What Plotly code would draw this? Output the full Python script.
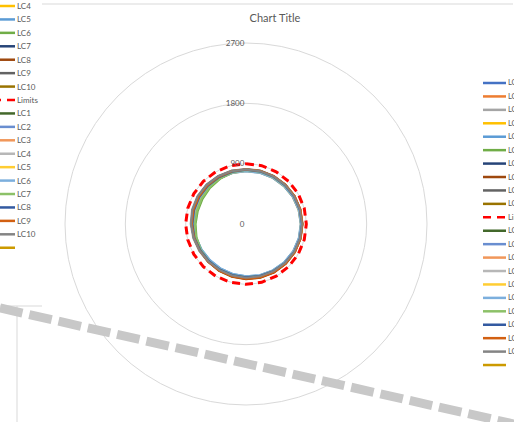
import plotly.graph_objects as go

W, H = 514, 422

# Angular positions (degrees, clockwise from the top)
angles = [i * 15 for i in range(24)]

# Load-case series, first set
lc_a1 = [805, 812, 818, 822, 828, 832, 835, 834, 830, 824, 815, 806, 798, 790, 785, 782, 784, 790, 796, 800, 798, 796, 798, 802]
lc_a2 = [815, 820, 826, 830, 836, 840, 842, 842, 840, 836, 832, 826, 820, 812, 802, 794, 792, 796, 802, 806, 808, 808, 810, 812]
lc_a3 = [820, 826, 830, 834, 838, 842, 845, 845, 842, 838, 830, 822, 812, 805, 800, 800, 806, 815, 826, 834, 836, 834, 830, 825]
lc_a4 = [790, 794, 796, 800, 806, 812, 818, 820, 818, 812, 806, 798, 790, 784, 780, 778, 780, 782, 786, 782, 780, 782, 785, 788]
lc_a5 = [785, 790, 795, 800, 806, 812, 816, 815, 812, 806, 798, 790, 780, 772, 764, 760, 764, 772, 782, 788, 790, 788, 786, 786]
lc_a6 = [800, 804, 808, 814, 822, 830, 838, 840, 836, 826, 812, 800, 790, 782, 778, 776, 772, 764, 752, 745, 748, 760, 776, 792]
lc_a7 = [810, 815, 818, 822, 826, 830, 832, 830, 826, 818, 810, 800, 792, 786, 782, 780, 786, 800, 790, 800, 805, 806, 808, 810]
lc_a8 = [812, 818, 822, 826, 832, 836, 840, 842, 842, 840, 836, 830, 824, 816, 806, 796, 792, 797, 804, 810, 812, 812, 812, 812]
lc_a9 = [818, 822, 826, 830, 834, 838, 840, 838, 834, 828, 820, 812, 805, 800, 796, 796, 800, 808, 816, 824, 828, 828, 826, 822]
lc_a10 = [808, 812, 816, 820, 826, 830, 834, 832, 828, 822, 814, 806, 798, 792, 788, 786, 788, 794, 800, 804, 806, 806, 806, 807]

# Load-case series, second set
lc_b1 = [812, 816, 820, 826, 830, 834, 836, 834, 830, 824, 816, 808, 800, 794, 790, 788, 790, 796, 804, 808, 810, 810, 810, 811]
lc_b2 = [798, 804, 810, 816, 822, 828, 832, 830, 826, 818, 808, 798, 788, 780, 774, 772, 776, 784, 792, 796, 796, 794, 794, 796]
lc_b3 = [810, 816, 822, 828, 834, 838, 840, 838, 834, 828, 820, 812, 804, 798, 794, 792, 794, 798, 804, 808, 810, 810, 810, 810]
lc_b4 = [812, 816, 820, 824, 828, 832, 834, 832, 828, 822, 814, 806, 798, 792, 788, 788, 794, 802, 812, 820, 822, 820, 818, 815]
lc_b5 = [795, 798, 802, 808, 814, 820, 824, 824, 820, 814, 806, 798, 790, 784, 780, 780, 784, 788, 790, 788, 786, 786, 790, 793]
lc_b6 = [790, 794, 800, 806, 812, 818, 822, 820, 816, 808, 800, 790, 780, 772, 766, 764, 768, 776, 786, 792, 794, 792, 790, 790]
lc_b7 = [805, 808, 812, 818, 826, 834, 840, 840, 834, 824, 812, 802, 794, 788, 784, 780, 776, 770, 762, 758, 762, 772, 786, 798]
lc_b8 = [808, 812, 816, 820, 826, 830, 834, 833, 829, 822, 812, 803, 795, 788, 784, 782, 786, 796, 798, 802, 804, 805, 806, 807]
lc_b9 = [814, 820, 825, 830, 836, 840, 842, 842, 840, 836, 830, 824, 816, 808, 800, 795, 796, 800, 806, 810, 812, 812, 813, 814]
lc_b10 = [812, 816, 820, 824, 828, 832, 835, 834, 830, 824, 816, 808, 800, 794, 790, 790, 796, 806, 818, 828, 830, 826, 822, 816]

limit_value = 900

radial_ticks = [0, 900, 1800, 2700]

series_a = [lc_a1, lc_a2, lc_a3, lc_a4, lc_a5, lc_a6, lc_a7, lc_a8, lc_a9, lc_a10]
series_b = [lc_b1, lc_b2, lc_b3, lc_b4, lc_b5, lc_b6, lc_b7, lc_b8, lc_b9, lc_b10]
names = ["LC1", "LC2", "LC3", "LC4", "LC5", "LC6", "LC7", "LC8", "LC9", "LC10"]
colors_a = ["#4472C4", "#ED7D31", "#A5A5A5", "#FFC000", "#5B9BD5",
            "#70AD47", "#264478", "#9E480E", "#636363", "#997300"]
colors_b = ["#43682B", "#698ED0", "#F1975A", "#B7B7B7", "#FFCD33",
            "#7CAFDD", "#8CC168", "#335AA1", "#D26012", "#848484"]
limit_color = "#FF0000"
extra_color = "#CC9A00"

TEXT = "#595959"
GRID = "#D9D9D9"


def closed(v):
    return list(v) + [v[0]]


fig = go.Figure()

for vals, name, col in zip(series_a, names, colors_a):
    fig.add_trace(go.Scatterpolar(r=closed(vals), theta=closed(angles), mode="lines",
                                  name=name, line=dict(color=col, width=2)))

fig.add_trace(go.Scatterpolar(r=closed([limit_value] * len(angles)), theta=closed(angles),
                              mode="lines", name="Limits",
                              line=dict(color=limit_color, width=3, dash="8px,5px")))

for vals, name, col in zip(series_b, names, colors_b):
    fig.add_trace(go.Scatterpolar(r=closed(vals), theta=closed(angles), mode="lines",
                                  name=name, line=dict(color=col, width=2)))


def px(x):
    return x / W


def py(y):
    return 1 - y / H


# Legend entries: (label, colour, dashed)
legend_items = ([(n, c, False) for n, c in zip(names, colors_a)]
                + [("Limits", limit_color, True)]
                + [(n, c, False) for n, c in zip(names, colors_b)]
                + [("", extra_color, False)])

shapes = []
annotations = []
step = 13.43


def draw_legend(x0, x1, y_first, size):
    for i, (label, col, dashed) in enumerate(legend_items):
        y = y_first + i * step
        line = dict(color=col, width=2.5)
        if dashed:
            line["dash"] = "8px,6px"
        shapes.append(dict(type="line", xref="paper", yref="paper",
                           x0=px(x0), x1=px(x1), y0=py(y), y1=py(y), line=line))
        if label:
            annotations.append(dict(x=px(x1 + 0.5), y=py(y), xref="paper", yref="paper",
                                    text=label, showarrow=False, xanchor="left",
                                    yanchor="middle", borderpad=0,
                                    font=dict(family="Lato", size=size, color=TEXT)))


draw_legend(483, 506, 83, 7.5)
draw_legend(-7, 15, 6 - 3 * step, 8)

# Frame lines of the surrounding sheet
shapes.append(dict(type="line", xref="paper", yref="paper", x0=px(42), x1=px(513),
                   y0=py(4), y1=py(4), line=dict(color=GRID, width=1)))
shapes.append(dict(type="line", xref="paper", yref="paper", x0=px(0), x1=px(42),
                   y0=py(306), y1=py(306), line=dict(color=GRID, width=1)))
shapes.append(dict(type="line", xref="paper", yref="paper", x0=px(17), x1=px(17),
                   y0=py(306), y1=py(422), line=dict(color=GRID, width=1)))
# Thick dashed connector
shapes.append(dict(type="line", xref="paper", yref="paper", x0=px(0), x1=px(514),
                   y0=py(308), y1=py(424),
                   line=dict(color="#C8C8C8", width=9, dash="23px,7px")))

cx, cy, rad = 246, 224, 181

fig.update_layout(
    width=W, height=H,
    margin=dict(l=0, r=0, t=0, b=0),
    paper_bgcolor="white",
    showlegend=False,
    title=dict(text="Chart Title", x=px(275), y=py(18), xanchor="center", yanchor="middle",
               font=dict(family="Lato", size=11, color=TEXT)),
    polar=dict(
        domain=dict(x=[px(cx - rad), px(cx + rad)], y=[py(cy + rad), py(cy - rad)]),
        bgcolor="white",
        angularaxis=dict(rotation=90, direction="clockwise", showticklabels=False,
                         ticks="", showgrid=False, showline=True,
                         linecolor=GRID, linewidth=1),
        radialaxis=dict(range=[0, 2700], tickvals=radial_ticks, showline=False,
                        gridcolor=GRID, gridwidth=1, angle=90, tickangle=90,
                        side="counterclockwise", ticks="",
                        tickfont=dict(family="Lato", size=8, color=TEXT)),
    ),
    shapes=shapes,
    annotations=annotations,
)

fig.write_html("out.html")
